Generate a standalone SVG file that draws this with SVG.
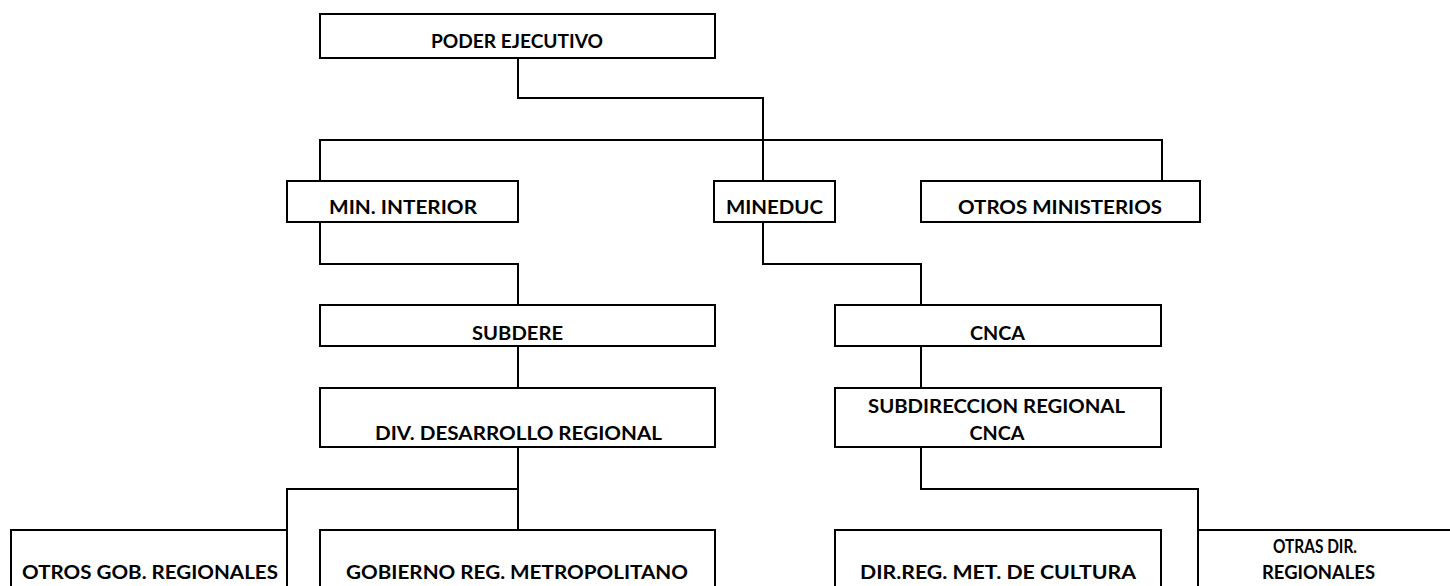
<svg xmlns="http://www.w3.org/2000/svg" width="1450" height="586" viewBox="0 0 1450 586">
<style>
.box{fill:#fff;stroke:#000;stroke-width:2}
.con{fill:none;stroke:#000;stroke-width:2}
text{font-family:Lato,"Liberation Sans",sans-serif;font-weight:bold;font-size:19px;fill:#000;text-anchor:middle}
</style>
<rect width="1450" height="586" fill="#fff"/>
<g id="connectors">
<path class="con" d="M518,58 V98 H763 V181"/>
<path class="con" d="M320,181 V140 H1162 V181"/>
<path class="con" d="M320,222 V264 H518 V305"/>
<path class="con" d="M518,346 V388"/>
<path class="con" d="M763,222 V264 H921 V305"/>
<path class="con" d="M921,346 V388"/>
<path class="con" d="M518,447 V530"/>
<path class="con" d="M518,489 H287 V530"/>
<path class="con" d="M921,447 V489 H1198 V530"/>
</g>
<g id="poder"><rect class="box" x="320" y="14" width="395" height="44"/><text x="517" y="47.5" textLength="172" lengthAdjust="spacingAndGlyphs">PODER EJECUTIVO</text></g>
<g id="mininterior"><rect class="box" x="287" y="181" width="231" height="41"/><text x="403" y="213.5" textLength="148" lengthAdjust="spacingAndGlyphs">MIN. INTERIOR</text></g>
<g id="mineduc"><rect class="box" x="714" y="181" width="121" height="41"/><text x="774.5" y="213.5" textLength="97" lengthAdjust="spacingAndGlyphs">MINEDUC</text></g>
<g id="otrosmin"><rect class="box" x="921" y="181" width="279" height="41"/><text x="1060" y="213.5" textLength="204" lengthAdjust="spacingAndGlyphs">OTROS MINISTERIOS</text></g>
<g id="subdere"><rect class="box" x="320" y="305" width="395" height="41"/><text x="517.5" y="339.5" textLength="91" lengthAdjust="spacingAndGlyphs">SUBDERE</text></g>
<g id="cnca"><rect class="box" x="835" y="305" width="326" height="41"/><text x="997.5" y="339.5" textLength="55" lengthAdjust="spacingAndGlyphs">CNCA</text></g>
<g id="div"><rect class="box" x="320" y="388" width="395" height="59"/><text x="518.5" y="439.5" textLength="287" lengthAdjust="spacingAndGlyphs">DIV. DESARROLLO REGIONAL</text></g>
<g id="subdir"><rect class="box" x="835" y="388" width="326" height="59"/><text x="996.5" y="413" textLength="257" lengthAdjust="spacingAndGlyphs">SUBDIRECCION REGIONAL</text><text x="997" y="439.5" textLength="55" lengthAdjust="spacingAndGlyphs">CNCA</text></g>
<g id="otrosgob"><rect class="box" x="11" y="530" width="276" height="80"/><text x="150" y="578.5" textLength="256" lengthAdjust="spacingAndGlyphs">OTROS GOB. REGIONALES</text></g>
<g id="gobierno"><rect class="box" x="320" y="530" width="395" height="80"/><text x="517" y="578.5" textLength="342" lengthAdjust="spacingAndGlyphs">GOBIERNO REG. METROPOLITANO</text></g>
<g id="dirreg"><rect class="box" x="835" y="530" width="326" height="80"/><text x="998" y="578.5" textLength="276" lengthAdjust="spacingAndGlyphs">DIR.REG. MET. DE CULTURA</text></g>
<g id="otrasdir"><rect class="box" x="1198" y="530" width="270" height="80"/><text x="1315" y="552.5" textLength="84" lengthAdjust="spacingAndGlyphs">OTRAS DIR.</text><text x="1318.5" y="578.5" textLength="113" lengthAdjust="spacingAndGlyphs">REGIONALES</text></g>
</svg>
